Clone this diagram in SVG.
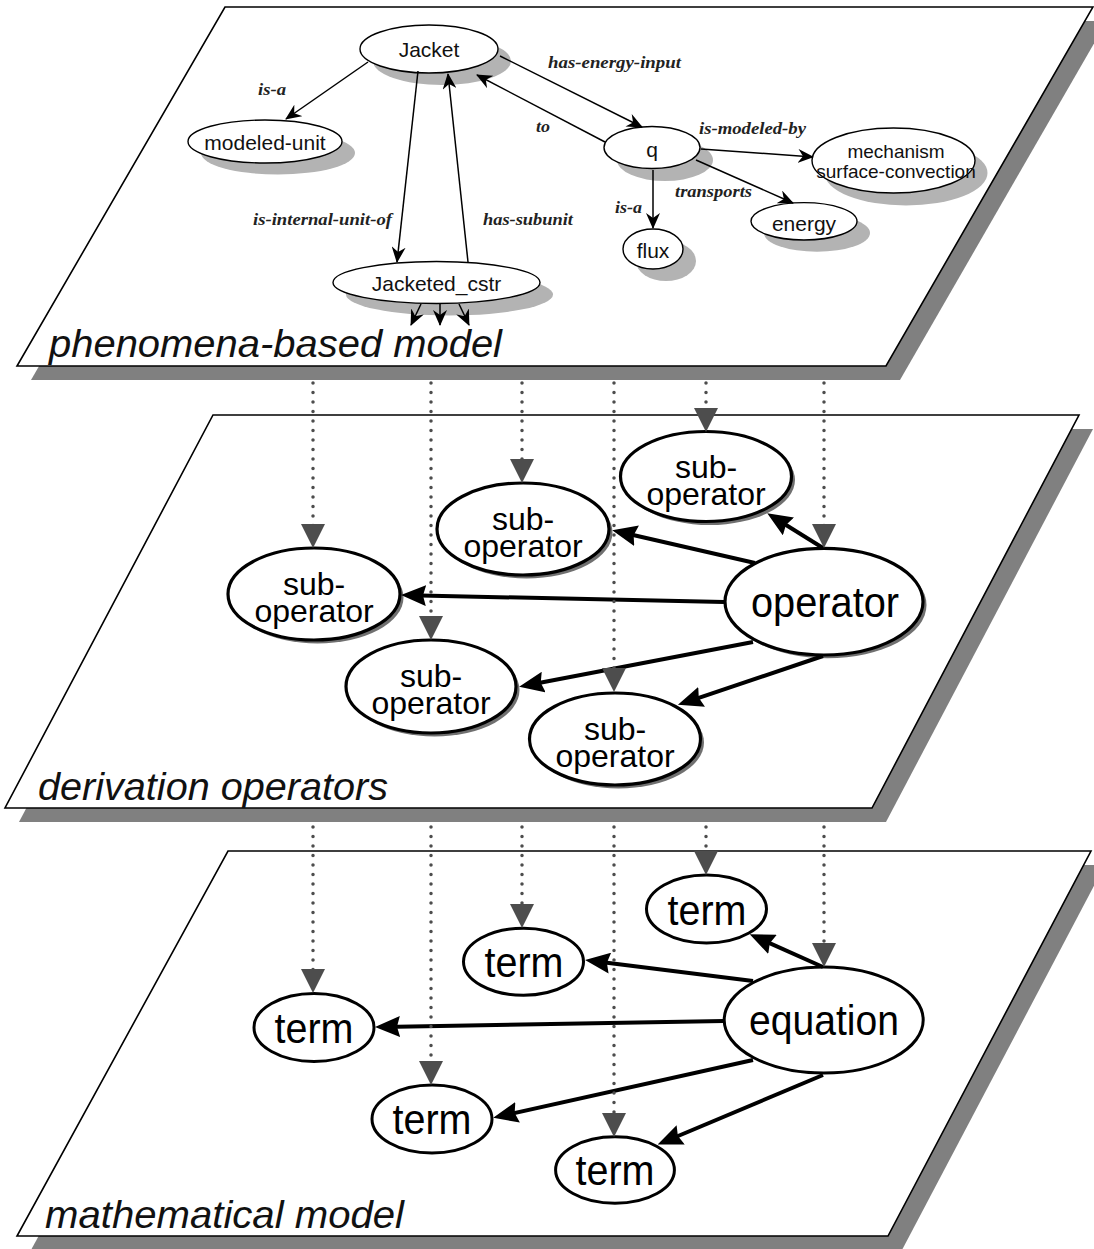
<svg xmlns="http://www.w3.org/2000/svg" width="1094" height="1249" viewBox="0 0 1094 1249">
<style>
.plane{fill:#fff;stroke:#000;stroke-width:1.6}
.pshadow{fill:#808080}
.ptitle{font-family:"Liberation Sans",Arial,sans-serif;font-style:italic;font-size:38px;fill:#111}
.tn{fill:#fff;stroke:#000;stroke-width:1.4}
.tsh{fill:#b3b3b3}
.tt{font-family:"Liberation Sans",Arial,sans-serif;font-size:21px;fill:#111;text-anchor:middle}
.lbl{font-family:"Liberation Serif","Times New Roman",serif;font-weight:bold;font-style:italic;font-size:17px;fill:#222}
.thin{fill:none;stroke:#000;stroke-width:1.5;marker-end:url(#aThin)}
.mn{fill:#fff;stroke:#000;stroke-width:3.2}
.msh{fill:#707070}
.mt{font-family:"Liberation Sans",Arial,sans-serif;font-size:32px;fill:#000;text-anchor:middle}
.bt{font-family:"Liberation Sans",Arial,sans-serif;font-size:42px;fill:#000;text-anchor:middle}
.bn{fill:#fff;stroke:#000;stroke-width:3}
.thick{fill:none;stroke:#000;stroke-width:4;marker-end:url(#aThick)}
.dot{fill:none;stroke:#4d4d4d;stroke-width:3.5;stroke-linecap:round;stroke-dasharray:0 9.5;marker-end:url(#aDot)}
</style>
<defs>
<marker id="aThin" markerUnits="userSpaceOnUse" markerWidth="16" markerHeight="14" refX="15" refY="7" orient="auto">
<path d="M0,0 L16,7 L0,14 L5,7 z" fill="#000"/>
</marker>
<marker id="aThick" markerUnits="userSpaceOnUse" markerWidth="25" markerHeight="21" refX="17" refY="10.5" orient="auto">
<path d="M0,0 L25,10.5 L0,21 L3,10.5 z" fill="#000"/>
</marker>
<marker id="aDot" markerUnits="userSpaceOnUse" markerWidth="24" markerHeight="24" refX="16" refY="12" orient="auto">
<path d="M0,0 L24,12 L0,24 z" fill="#4d4d4d"/>
</marker>
</defs>

<g id="plane-phenomena">
<polygon class="pshadow" points="239,21 1107,21 900,380 31,380"/>
<polygon class="plane" points="225,7 1093,7 886,366 17,366"/>
<text class="ptitle" x="49" y="357" textLength="453" lengthAdjust="spacingAndGlyphs">phenomena-based model</text>
</g>
<g id="plane-derivation">
<polygon class="pshadow" points="227,429 1093,429 886,822 19,822"/>
<polygon class="plane" points="213,415 1079,415 872,808 5,808"/>
<text class="ptitle" x="38" y="800" textLength="350" lengthAdjust="spacingAndGlyphs">derivation operators</text>
</g>
<g id="plane-mathematical">
<polygon class="pshadow" points="242,865 1105,865 902,1250 31,1250"/>
<polygon class="plane" points="228,851 1091,851 888,1236 17,1236"/>
<text class="ptitle" x="45" y="1228" textLength="359" lengthAdjust="spacingAndGlyphs">mathematical model</text>
</g>

<g id="node-jacket"><ellipse class="tsh" cx="442" cy="61" rx="69" ry="24"/><ellipse class="tn" cx="429" cy="49" rx="69" ry="24"/><text class="tt" x="429" y="57">Jacket</text></g>
<g id="node-modeled-unit"><ellipse class="tsh" cx="278" cy="153" rx="77" ry="21.5"/><ellipse class="tn" cx="265" cy="141.5" rx="77" ry="21.5"/><text class="tt" x="265" y="150">modeled-unit</text></g>
<g id="node-q"><ellipse class="tsh" cx="665" cy="160" rx="48" ry="21"/><ellipse class="tn" cx="652" cy="147.5" rx="48" ry="21"/><text class="tt" x="652" y="157">q</text></g>
<g id="node-mechanism"><ellipse class="tsh" cx="906" cy="173" rx="81.5" ry="32.5"/><ellipse class="tn" cx="893.5" cy="160.5" rx="81.5" ry="32.5"/><text class="tt" x="896" y="158" style="font-size:19px">mechanism</text><text class="tt" x="896" y="178" style="font-size:19px">surface-convection</text></g>
<g id="node-energy"><ellipse class="tsh" cx="817" cy="233" rx="53" ry="18.7"/><ellipse class="tn" cx="804" cy="221.3" rx="53" ry="18.7"/><text class="tt" x="804" y="231">energy</text></g>
<g id="node-flux"><ellipse class="tsh" cx="666" cy="261" rx="30" ry="20"/><ellipse class="tn" cx="653" cy="249" rx="30" ry="20"/><text class="tt" x="653" y="258">flux</text></g>
<g id="node-jacketed-cstr"><ellipse class="tsh" cx="449.5" cy="294.5" rx="103.5" ry="21"/><ellipse class="tn" cx="436.5" cy="282.5" rx="103.5" ry="21"/><text class="tt" x="436.5" y="290.5">Jacketed_cstr</text></g>

<g id="node-suboperator-1"><ellipse class="msh" cx="709.5" cy="480" rx="85.5" ry="45"/><ellipse class="mn" cx="706" cy="476.5" rx="85.5" ry="45"/><text class="mt" x="706" y="478">sub-</text><text class="mt" x="706" y="505">operator</text></g>
<g id="node-suboperator-2"><ellipse class="msh" cx="526.5" cy="532.5" rx="86" ry="46"/><ellipse class="mn" cx="523" cy="529" rx="86" ry="46"/><text class="mt" x="523" y="530">sub-</text><text class="mt" x="523" y="557">operator</text></g>
<g id="node-suboperator-3"><ellipse class="msh" cx="317.5" cy="597.5" rx="86" ry="46"/><ellipse class="mn" cx="314" cy="594" rx="86" ry="46"/><text class="mt" x="314" y="595">sub-</text><text class="mt" x="314" y="622">operator</text></g>
<g id="node-suboperator-4"><ellipse class="msh" cx="434.5" cy="690" rx="85" ry="46.5"/><ellipse class="mn" cx="431" cy="686.5" rx="85" ry="46.5"/><text class="mt" x="431" y="687">sub-</text><text class="mt" x="431" y="714">operator</text></g>
<g id="node-suboperator-5"><ellipse class="msh" cx="618.5" cy="742.5" rx="85.5" ry="46"/><ellipse class="mn" cx="615" cy="739" rx="85.5" ry="46"/><text class="mt" x="615" y="740">sub-</text><text class="mt" x="615" y="767">operator</text></g>
<g id="node-operator"><ellipse class="msh" cx="827.5" cy="605" rx="99" ry="53.3"/><ellipse class="mn" cx="824" cy="601.7" rx="99" ry="53.3"/><text class="bt" x="825" y="617" textLength="148" lengthAdjust="spacingAndGlyphs">operator</text></g>

<g id="node-term-1"><ellipse class="bn" cx="706.5" cy="909" rx="60" ry="34"/><text class="bt" x="707" y="925" textLength="79" lengthAdjust="spacingAndGlyphs">term</text></g>
<g id="node-term-2"><ellipse class="bn" cx="523.5" cy="961.7" rx="60" ry="33.5"/><text class="bt" x="524" y="977" textLength="79" lengthAdjust="spacingAndGlyphs">term</text></g>
<g id="node-term-3"><ellipse class="bn" cx="314" cy="1027.5" rx="60" ry="34"/><text class="bt" x="314" y="1043" textLength="79" lengthAdjust="spacingAndGlyphs">term</text></g>
<g id="node-term-4"><ellipse class="bn" cx="432" cy="1119" rx="60" ry="34"/><text class="bt" x="432" y="1134" textLength="79" lengthAdjust="spacingAndGlyphs">term</text></g>
<g id="node-term-5"><ellipse class="bn" cx="615" cy="1170" rx="59.4" ry="33.3"/><text class="bt" x="615" y="1185" textLength="79" lengthAdjust="spacingAndGlyphs">term</text></g>
<g id="node-equation"><ellipse class="bn" cx="823.7" cy="1020" rx="99.5" ry="53"/><text class="bt" x="824" y="1035" textLength="150" lengthAdjust="spacingAndGlyphs">equation</text></g>

<g id="connectors">
<path class="thin" d="M368,62 L286,119"/>
<path class="thin" d="M418,71 L397,262"/>
<path class="thin" d="M468,262 L448,74"/>
<path class="thin" d="M500,56 L642,127"/>
<path class="thin" d="M605,142 L477,75"/>
<path class="thin" d="M701,149 L813,157"/>
<path class="thin" d="M696,160 L793,203"/>
<path class="thin" d="M653,170 L653,228"/>
<path class="thin" d="M421,304 L411,325"/>
<path class="thin" d="M440,304 L440,325"/>
<path class="thin" d="M459,304 L469,325"/>
<text class="lbl" x="548" y="68" textLength="133" lengthAdjust="spacingAndGlyphs">has-energy-input</text>
<text class="lbl" x="258" y="95" textLength="28" lengthAdjust="spacingAndGlyphs">is-a</text>
<text class="lbl" x="536" y="132" textLength="14" lengthAdjust="spacingAndGlyphs">to</text>
<text class="lbl" x="699" y="134" textLength="107" lengthAdjust="spacingAndGlyphs">is-modeled-by</text>
<text class="lbl" x="675" y="197" textLength="77" lengthAdjust="spacingAndGlyphs">transports</text>
<text class="lbl" x="615" y="213" textLength="27" lengthAdjust="spacingAndGlyphs">is-a</text>
<text class="lbl" x="253" y="225" textLength="139" lengthAdjust="spacingAndGlyphs">is-internal-unit-of</text>
<text class="lbl" x="483" y="225" textLength="90" lengthAdjust="spacingAndGlyphs">has-subunit</text>

<path class="thick" d="M823,548 L774,517.5"/>
<path class="thick" d="M755,563 L620,532"/>
<path class="thick" d="M724,602 L409,595.2"/>
<path class="thick" d="M753,642 L527,685.3"/>
<path class="thick" d="M823,656 L685.5,702.3"/>

<path class="thick" d="M823,967 L757,937.5"/>
<path class="thick" d="M753,981 L593,961"/>
<path class="thick" d="M724,1021 L383,1026.9"/>
<path class="thick" d="M753,1060 L501,1116"/>
<path class="thick" d="M823,1075 L665,1141.5"/>
</g>

<g id="connectors-layers">
<path class="dot" d="M313,383 L313,540"/>
<path class="dot" d="M431,383 L431,632"/>
<path class="dot" d="M522,383 L522,475"/>
<path class="dot" d="M614,383 L614,684"/>
<path class="dot" d="M706,383 L706,424"/>
<path class="dot" d="M824,383 L824,540"/>
<path class="dot" d="M313,827 L313,985"/>
<path class="dot" d="M431,827 L431,1077"/>
<path class="dot" d="M522,827 L522,920"/>
<path class="dot" d="M614,827 L614,1129"/>
<path class="dot" d="M706,827 L706,867"/>
<path class="dot" d="M824,827 L824,959"/>
</g>
</svg>
